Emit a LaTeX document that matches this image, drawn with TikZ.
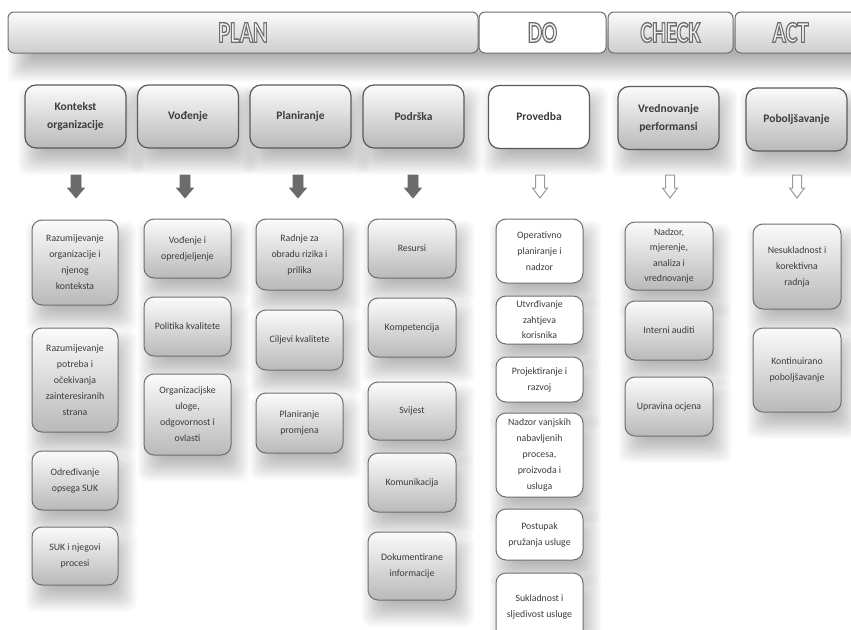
\documentclass[tikz,border=0pt]{standalone}
\usepackage{fontspec}
\setmainfont{Carlito}

\definecolor{edgegray}{HTML}{6E6E6E}
\definecolor{topedge}{HTML}{5A5A5A}
\definecolor{boxtop}{HTML}{FBFBFB}
\definecolor{boxbot}{HTML}{B9B9B9}
\definecolor{barbot}{HTML}{CDCDCD}
\definecolor{txtgray}{HTML}{3C3C3C}
\definecolor{letterfill}{HTML}{F2F2F2}
\definecolor{arrowfill}{HTML}{6B6B6B}
\definecolor{arrowline}{HTML}{9A9A9A}

\pgfdeclarelayer{shadowlayer}
\pgfsetlayers{shadowlayer,main}

% hollow lettering: light fill with a grey stroke (text render mode 2)
\newcommand\headtext[1]{\scalebox{0.74}[1]{\bfseries\fontsize{30}{30}\selectfont\color{letterfill}%
  \special{pdf:literal direct 2 Tr 1.4 w 0.43 0.43 0.43 RG}#1\special{pdf:literal direct 0 Tr 0.4 w}}}

% soft drop shadow spanning from node #1 (lower left) to node #2 (upper right):
% stacked translucent rounded rectangles; #3 x offset, #4 y offset (down), #5 radius
\newcommand\castshadow[5]{%
  \begin{pgfonlayer}{shadowlayer}
  \foreach \e in {-14,-12,...,12}{%
    \pgfmathsetmacro\sa{#3-(\e)}\pgfmathsetmacro\sb{#4+(\e)}%
    \pgfmathsetmacro\sc{#3+(\e)}\pgfmathsetmacro\sd{#4-(\e)}%
    \fill[black, fill opacity=0.022, rounded corners=#5]
      ([shift={(\sa,\sb)}]#1.south west) rectangle ([shift={(\sc,\sd)}]#2.north east);
  }
  \end{pgfonlayer}}

\tikzset{
  hbar/.style={draw=edgegray, line width=1pt, rounded corners=6pt, inner sep=0pt},
  graybar/.style={hbar, top color=boxtop, bottom color=barbot},
  whitebar/.style={hbar, fill=white},
  headbox/.style={draw=topedge, line width=1.2pt, rounded corners=11pt,
      top color=boxtop, bottom color=boxbot, align=center,
      text=txtgray, font=\bfseries\fontsize{11.5}{18}\selectfont,
      minimum width=101pt, minimum height=63pt, inner sep=2pt},
  headwhite/.style={headbox, top color=white, bottom color=white},
  itembox/.style={draw=edgegray, line width=1pt, rounded corners=10pt,
      top color=boxtop, bottom color=boxbot, align=center,
      text=txtgray, font=\fontsize{9.8}{16}\selectfont,
      minimum width=87pt, inner sep=1pt},
  itemwhite/.style={itembox, top color=white, bottom color=white},
  darrow/.pic={\path[pic actions] (-5,-11.5) -- (5,-11.5) -- (5,1.5)
      -- (8.5,1.5) -- (0,11.5) -- (-8.5,1.5) -- (-5,1.5) -- cycle;},
  oarrow/.pic={\path[pic actions] (-4.5,-11.5) -- (4.5,-11.5) -- (4.5,1.5)
      -- (7.5,1.5) -- (0,11.5) -- (-7.5,1.5) -- (-4.5,1.5) -- cycle;},
  solidarrow/.style={fill=arrowfill, draw=arrowfill, line width=0.6pt},
  hollowarrow/.style={fill=white, draw=arrowline, line width=1pt},
}

\begin{document}
\begin{tikzpicture}[x=1pt,y=-1pt]
\useasboundingbox (0,0) rectangle (851,629);
\begin{pgfonlayer}{shadowlayer}
\fill[white] (0,0) rectangle (851,629);
\end{pgfonlayer}

% phase bar
\node[graybar, minimum width=470pt, minimum height=41pt] (plan) at (243,32.5) {\headtext{PLAN}};
\node[whitebar, minimum width=127pt, minimum height=41pt] (do) at (542.5,32.5) {\headtext{DO}};
\node[graybar, minimum width=125pt, minimum height=41pt] (check) at (670.5,32.5) {\headtext{CHECK}};
\node[graybar, minimum width=125pt, minimum height=41pt] (act) at (797.5,32.5) {};
\node (actlabel) at (790.5,32.5) {\headtext{ACT}};

% clause headings
\node[headbox] (t1) at (75.5,116.5) {Kontekst\\organizacije};
\node[headbox] (t2) at (188,116.5) {Vođenje};
\node[headbox] (t3) at (300.5,116.5) {Planiranje};
\node[headbox] (t4) at (413.5,116.5) {Podrška};
\node[headwhite] (t5) at (539,117) {Provedba};
\node[headbox] (t6) at (668.5,118) {Vrednovanje\\performansi};
\node[headbox] (t7) at (796.5,119.5) {Poboljšavanje};

% block arrows
\pic[solidarrow] (a1) at (76,186.5) {darrow};
\pic[solidarrow] (a2) at (185,186.5) {darrow};
\pic[solidarrow] (a3) at (298,186.5) {darrow};
\pic[solidarrow] (a4) at (413,186.5) {darrow};
\pic[hollowarrow] (a5) at (540,186.5) {oarrow};
\pic[hollowarrow] (a6) at (670,186.5) {oarrow};
\pic[hollowarrow] (a7) at (797,186.5) {oarrow};

% Kontekst organizacije
\node[itembox, minimum width=86pt, minimum height=85pt] (r11) at (75,262.5) {Razumijevanje\\organizacije i\\njenog\\konteksta};
\node[itembox, minimum width=86pt, minimum height=104pt] (r12) at (75,380) {Razumijevanje\\potreba i\\očekivanja\\zainteresiranih\\strana};
\node[itembox, minimum width=86pt, minimum height=59pt] (r13) at (75,480.5) {Određivanje\\opsega SUK};
\node[itembox, minimum width=86pt, minimum height=58pt] (r14) at (75,556) {SUK i njegovi\\procesi};

% Vođenje
\node[itembox, minimum height=59pt] (r21) at (187.5,248.5) {Vođenje i\\opredjeljenje};
\node[itembox, minimum height=59pt] (r22) at (187.5,326.5) {Politika kvalitete};
\node[itembox, minimum height=81pt] (r23) at (187.5,414.5) {Organizacijske\\uloge,\\odgovornost i\\ovlasti};

% Planiranje
\node[itembox, minimum height=71pt] (r31) at (299.5,254.5) {Radnje za\\obradu rizika i\\prilika};
\node[itembox, minimum height=60pt] (r32) at (299.5,340) {Ciljevi kvalitete};
\node[itembox, minimum height=60pt] (r33) at (299.5,423) {Planiranje\\promjena};

% Podrška
\node[itembox, minimum width=88pt, minimum height=59pt] (r41) at (412,248.5) {Resursi};
\node[itembox, minimum width=88pt, minimum height=59pt] (r42) at (412,327.5) {Kompetencija};
\node[itembox, minimum width=88pt, minimum height=58pt] (r43) at (412,411) {Svijest};
\node[itembox, minimum width=88pt, minimum height=59pt] (r44) at (412,482.5) {Komunikacija};
\node[itembox, minimum width=88pt, minimum height=68pt] (r45) at (412,566) {Dokumentirane\\informacije};

% Provedba
\node[itemwhite, minimum height=64pt] (r51) at (539.5,251) {Operativno\\planiranje i\\nadzor};
\node[itemwhite, minimum height=48pt, font=\fontsize{9.8}{15.5}\selectfont] (r52) at (539.5,320) {Utvrđivanje\\zahtjeva\\korisnika};
\node[itemwhite, minimum height=45pt] (r53) at (539.5,379.5) {Projektiranje i\\razvoj};
\node[itemwhite, minimum height=84pt] (r54) at (539.5,455) {Nadzor vanjskih\\nabavljenih\\procesa,\\proizvoda i\\usluga};
\node[itemwhite, minimum height=51pt] (r55) at (539.5,534.5) {Postupak\\pružanja usluge};
\node[itemwhite, minimum height=67pt] (r56) at (539.5,606.5) {Sukladnost i\\sljedivost usluge};

% Vrednovanje performansi
\node[itembox, minimum width=88pt, minimum height=68pt, font=\fontsize{9.8}{15.5}\selectfont] (r61) at (669,256) {Nadzor,\\mjerenje,\\analiza i\\vrednovanje};
\node[itembox, minimum width=88pt, minimum height=59pt] (r62) at (669,330.5) {Interni auditi};
\node[itembox, minimum width=88pt, minimum height=59pt] (r63) at (669,406.5) {Upravina ocjena};

% Poboljšavanje
\node[itembox, minimum width=88pt, minimum height=85pt] (r71) at (797,266.5) {Nesukladnost i\\korektivna\\radnja};
\node[itembox, minimum width=88pt, minimum height=84pt] (r72) at (797,370) {Kontinuirano\\poboljšavanje};

% shadows beneath the phase bar and the boxes
\castshadow{plan}{act}{12}{16}{5pt}
\foreach \n in {t1,t2,t3,t4,t5,t6,t7,r11,r12,r13,r14,r21,r22,r23,r31,r32,r33,
  r41,r42,r43,r44,r45,r51,r52,r53,r54,r55,r56,r61,r62,r63,r71,r72}{\castshadow{\n}{\n}{6}{14}{9pt}}
\end{tikzpicture}
\end{document}
